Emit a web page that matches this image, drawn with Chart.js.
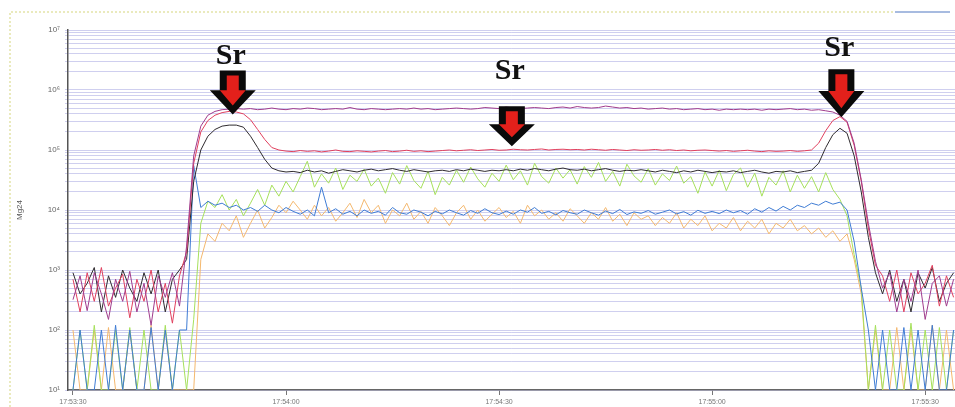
<!DOCTYPE html>
<html lang="en">
  <head>
    <meta charset="UTF-8">
    <title>Mg24 signal</title>
    <script src="https://cdn.jsdelivr.net/npm/chart.js"></script>
    <style>
      html, body { margin: 0; padding: 0; background: #ffffff; }
      #chart { display: block; }
    </style>
  </head>
  <body>
    <canvas id="chart" width="955" height="407"></canvas>

    <script>
      // seconds after 17:53:30
      const seconds = [0,1,2,3,4,5,6,7,8,9,10,11,12,13,14,15,16,17,18,19,20,21,22,23,24,25,26,27,28,29,30,31,32,33,34,35,36,37,38,39,40,41,42,43,44,45,46,47,48,49,50,51,52,53,54,55,56,57,58,59,60,61,62,63,64,65,66,67,68,69,70,71,72,73,74,75,76,77,78,79,80,81,82,83,84,85,86,87,88,89,90,91,92,93,94,95,96,97,98,99,100,101,102,103,104,105,106,107,108,109,110,111,112,113,114,115,116,117,118,119,120,121,122,123,124];

      const timeTicks = [0, 30, 60, 90, 120];
      const decades = [1, 2, 3, 4, 5, 6, 7];

      const purple = [3.2e2,8e2,2.1e2,9e2,4e2,1.5e2,7e2,3e2,9.5e2,2e2,6e2,1.2e2,8e2,3.5e2,9e2,2.5e2,
        2.5e3,8e4,2.5e5,3.8e5,4.4e5,4.7e5,4.8e5,4.9e5,
        4.8e5,4.9e5,4.7e5,4.8e5,5e5,4.8e5,4.7e5,4.9e5,4.8e5,5e5,
        4.9e5,4.7e5,4.8e5,4.9e5,4.8e5,5.1e5,4.8e5,4.7e5,4.9e5,4.8e5,
        4.7e5,4.8e5,4.9e5,4.8e5,5e5,4.8e5,4.9e5,4.7e5,4.8e5,4.9e5,
        5e5,4.9e5,4.8e5,4.9e5,5.1e5,5e5,4.9e5,5.2e5,5e5,4.9e5,
        5e5,5.1e5,5e5,4.9e5,5.1e5,5.2e5,5e5,5.3e5,5.1e5,5e5,
        5.1e5,5.4e5,5.2e5,5e5,5.1e5,4.9e5,5e5,4.8e5,4.9e5,5e5,
        4.8e5,4.9e5,4.7e5,4.8e5,4.9e5,4.7e5,4.8e5,4.6e5,4.8e5,4.7e5,
        4.8e5,4.7e5,4.8e5,4.6e5,4.8e5,4.7e5,4.8e5,4.9e5,4.7e5,4.8e5,4.6e5,4.7e5,4.5e5,4.3e5,
        3.8e5,3e5,1.3e5,3.2e4,6e3,1.4e3,
        5e2,9e2,2e2,7e2,3e2,1e3,1.5e2,6e2,8e2,2.5e2,7e2];

      const red = [7e2,2e2,9e2,3e2,1.1e3,2.5e2,5e2,8.5e2,1.6e2,7e2,3e2,1e3,2e2,6e2,1.3e2,8e2,
        2e3,6e4,2e5,3.1e5,3.8e5,4.2e5,4.4e5,4.3e5,4e5,3.2e5,2.2e5,1.5e5,1.1e5,1e5,9.6e4,
        9.4e4,9.8e4,9.5e4,9.7e4,9.3e4,9.6e4,1e5,9.5e4,9.4e4,9.7e4,
        9.5e4,9.3e4,9.6e4,9.8e4,9.4e4,9.6e4,9.9e4,9.5e4,9.7e4,9.4e4,
        9.6e4,9.8e4,1e5,9.7e4,9.9e4,1.01e5,9.8e4,1e5,1.02e5,9.9e4,
        1e5,1.03e5,1.01e5,1e5,1.02e5,1.04e5,1e5,1.02e5,1.03e5,1.01e5,
        1.02e5,1e5,1.03e5,1.01e5,9.9e4,1.02e5,1e5,9.8e4,1.01e5,9.9e4,
        1e5,1.02e5,9.9e4,1.01e5,9.8e4,1e5,9.7e4,9.9e4,1e5,9.8e4,
        9.6e4,9.8e4,9.5e4,9.7e4,9.9e4,9.6e4,9.4e4,9.7e4,9.5e4,9.6e4,9.8e4,9.5e4,9.7e4,
        1e5,1.3e5,2.1e5,3.1e5,3.6e5,2.9e5,1.2e5,3e4,5e3,1.2e3,
        8e2,3e2,1e3,2e2,9e2,4e2,6e2,1.2e3,2.5e2,8e2,3.5e2];

      const black = [9e2,4e2,6e2,1.1e3,2e2,8e2,3.5e2,1e3,5e2,3e2,9e2,4e2,1e3,2e2,7e2,1e3,
        1.5e3,3e4,1e5,1.7e5,2.2e5,2.5e5,2.6e5,2.6e5,2.4e5,1.7e5,1.1e5,7e4,5e4,4.5e4,4.3e4,
        4.4e4,4.2e4,4.6e4,4.3e4,4.5e4,4.1e4,4.4e4,4.7e4,4.5e4,4.3e4,
        4.6e4,4.8e4,4.5e4,4.7e4,4.9e4,4.6e4,4.4e4,4.7e4,4.5e4,4.3e4,
        4.5e4,4.6e4,4.4e4,4.7e4,4.5e4,4.8e4,4.6e4,4.4e4,4.6e4,4.5e4,
        4.7e4,4.5e4,4.8e4,4.6e4,4.9e4,4.7e4,4.5e4,4.8e4,5e4,4.7e4,
        4.6e4,4.8e4,4.5e4,4.7e4,4.9e4,4.6e4,4.4e4,4.6e4,4.5e4,4.7e4,
        4.5e4,4.3e4,4.6e4,4.4e4,4.2e4,4.5e4,4.3e4,4.6e4,4.4e4,4.2e4,
        4.4e4,4.3e4,4.5e4,4.2e4,4.4e4,4.6e4,4.3e4,4.1e4,4.4e4,4.3e4,4.5e4,4.2e4,4.4e4,
        4.6e4,6e4,1.1e5,1.8e5,2.3e5,1.9e5,8e4,2e4,3.5e3,9e2,
        4e2,1e3,3e2,7e2,2e2,9e2,5e2,1.1e3,3e2,6e2,9e2];

      const green = [0,1e2,0,1.2e2,0,0,1e2,0,1.1e2,0,1e2,0,0,1.2e2,0,1e2,
        0,1.5e2,6e3,1.4e4,1.1e4,1.8e4,1e4,1.5e4,8e3,1.3e4,2.2e4,1.2e4,2.6e4,1.7e4,3e4,
        2e4,3.6e4,6.5e4,2.4e4,4e4,2.8e4,5e4,2.2e4,3.8e4,3e4,
        4.8e4,2.5e4,3.4e4,1.9e4,4.2e4,2.7e4,5.5e4,3.1e4,2.3e4,4.4e4,
        1.8e4,3.5e4,2.6e4,4.6e4,2.9e4,5.2e4,3.3e4,2.4e4,4.1e4,3e4,
        5.6e4,3.2e4,4.5e4,2.6e4,6e4,3.6e4,2.8e4,5e4,3.4e4,4.7e4,
        2.7e4,5.3e4,3.5e4,6.2e4,3e4,4.4e4,2.5e4,5.8e4,3.7e4,2.9e4,
        4.9e4,2.6e4,4e4,3.1e4,5.4e4,2.8e4,3.6e4,1.9e4,4.3e4,2.5e4,
        4.6e4,2.1e4,3.9e4,5e4,2.4e4,4.1e4,1.7e4,3.5e4,2.6e4,4.5e4,2e4,3.8e4,2.3e4,
        3.6e4,2e4,4.2e4,2.2e4,1.5e4,8e3,1.8e3,5e2,0,1.2e2,
        0,1e2,0,0,1.3e2,0,1e2,0,1.1e2,0,1e2];

      const orange = [1e2,0,0,1e2,0,1.1e2,0,0,1e2,0,0,1.2e2,0,1e2,0,0,
        0,0,1.5e3,4e3,3e3,6e3,4.5e3,8e3,3.5e3,6e3,1e4,5e3,7.5e3,1.2e4,9e3,
        1.4e4,1e4,7e3,1.2e4,8e3,1.1e4,6.5e3,9e3,1.3e4,7.5e3,
        1.5e4,9e3,1.2e4,6e3,1e4,8e3,1.3e4,7e3,9.5e3,6e3,
        1.1e4,8e3,5.5e3,9e3,1.2e4,7e3,1e4,6.5e3,8.5e3,1.1e4,
        7.5e3,9.5e3,6e3,1.2e4,8e3,1e4,7e3,9e3,6.5e3,1.05e4,
        8e3,6e3,9e3,7e3,1.1e4,6.5e3,8.5e3,5.5e3,9e3,7e3,
        8e3,5.5e3,7.5e3,6e3,9e3,5e3,7e3,5.5e3,8e3,4.5e3,
        6e3,5e3,7.5e3,4.5e3,6.5e3,5e3,7e3,4e3,6e3,5e3,7e3,4.5e3,5.5e3,
        4e3,5e3,3.5e3,4.5e3,3e3,4e3,1.5e3,4e2,0,1e2,
        0,0,1.1e2,0,1e2,0,0,1.2e2,0,1e2,0];

      const blue = [0,1e2,0,0,1e2,0,1.2e2,0,1e2,0,0,1.1e2,0,1e2,0,1e2,
        1e2,5.5e4,1.1e4,1.4e4,1.2e4,1.3e4,1.1e4,1.2e4,1e4,1.1e4,9.5e3,1.2e4,1e4,9e3,1.1e4,
        9.5e3,8.5e3,1e4,8e3,2.4e4,9e3,1.05e4,8.5e3,9.5e3,8e3,
        1e4,8.8e3,9.5e3,8.2e3,1.1e4,9e3,8.5e3,1e4,9.2e3,8e3,
        9.5e3,8.6e3,1e4,9e3,8.2e3,9.8e3,8.8e3,1.05e4,9e3,8.4e3,
        9.6e3,8.5e3,1e4,9.2e3,1.1e4,8.8e3,9.5e3,8.3e3,9.8e3,9e3,
        8.5e3,1e4,9e3,8.2e3,9.6e3,8.7e3,1.02e4,8.4e3,9.3e3,8.8e3,
        9.8e3,8.5e3,9.2e3,1e4,8.6e3,9.4e3,8.2e3,9.9e3,8.8e3,9.5e3,
        8.7e3,1e4,9e3,9.8e3,8.5e3,1.05e4,9.2e3,1.1e4,9.6e3,1.15e4,1e4,1.2e4,1.1e4,
        1.3e4,1.2e4,1.4e4,1.25e4,1.35e4,1e4,3e3,5e2,1e2,0,
        1e2,0,0,1.1e2,0,1e2,0,1.2e2,0,0,1e2];

      // Sr peak markers: seconds and counts of the arrow tip, arrow height, text gap above tip
      const markers = [
        { t: 22.5, v: 3.9e5, h: 44, gap: 51 },
        { t: 61.8, v: 1.15e5, h: 40, gap: 67 },
        { t: 108.2, v: 3.5e5, h: 48, gap: 61 }
      ];

      const Y_MIN = 10;

      function points(values) {
        return values.map((v, i) => ({ x: seconds[i], y: Math.max(v, Y_MIN) }));
      }

      function timeLabel(t) {
        const s = 17 * 3600 + 53 * 60 + 30 + Math.round(t);
        const h = Math.floor(s / 3600);
        const m = Math.floor((s % 3600) / 60);
        const sec = s % 60;
        return h + ':' + String(m).padStart(2, '0') + ':' + String(sec).padStart(2, '0');
      }

      const sup = { '1': '¹', '2': '²', '3': '³', '4': '⁴', '5': '⁵', '6': '⁶', '7': '⁷' };

      function arrowPath(ctx, cx, top, tip, shaftW, headW, headH) {
        ctx.beginPath();
        ctx.moveTo(cx - shaftW / 2, top);
        ctx.lineTo(cx + shaftW / 2, top);
        ctx.lineTo(cx + shaftW / 2, tip - headH);
        ctx.lineTo(cx + headW / 2, tip - headH);
        ctx.lineTo(cx, tip);
        ctx.lineTo(cx - headW / 2, tip - headH);
        ctx.lineTo(cx - shaftW / 2, tip - headH);
        ctx.closePath();
      }

      function drawArrow(ctx, cx, tip, h) {
        const top = tip - h;
        const headH = h * 0.55;
        arrowPath(ctx, cx, top, tip, 26, 46, headH);
        ctx.fillStyle = '#0a0a0a';
        ctx.fill();
        arrowPath(ctx, cx, top + 5, tip - 9, 12, 26, headH - 9);
        ctx.fillStyle = '#e3201b';
        ctx.fill();
      }

      const framePlugin = {
        id: 'frame',
        beforeDraw(chart) {
          const ctx = chart.ctx;
          ctx.save();
          ctx.strokeStyle = '#e4e4a8';
          ctx.lineWidth = 1.5;
          ctx.setLineDash([2, 2]);
          ctx.beginPath();
          ctx.moveTo(10, 407);
          ctx.lineTo(10, 12);
          ctx.lineTo(895, 12);
          ctx.stroke();
          ctx.setLineDash([]);
          ctx.strokeStyle = '#8aa4d6';
          ctx.beginPath();
          ctx.moveTo(895, 12);
          ctx.lineTo(950, 12);
          ctx.stroke();
          ctx.restore();
        }
      };

      const markerPlugin = {
        id: 'srMarkers',
        afterDatasetsDraw(chart) {
          const ctx = chart.ctx;
          const xs = chart.scales.x, ys = chart.scales.y;
          ctx.save();
          markers.forEach(m => {
            const cx = xs.getPixelForValue(m.t);
            const tip = ys.getPixelForValue(m.v);
            drawArrow(ctx, cx, tip, m.h);
            ctx.fillStyle = '#111';
            ctx.font = 'bold 30px "Liberation Serif", "DejaVu Serif", serif';
            ctx.textAlign = 'center';
            ctx.textBaseline = 'alphabetic';
            ctx.fillText('Sr', cx - 2, tip - m.gap);
          });
          ctx.restore();
        }
      };

      function line(label, color, values) {
        return {
          label: label,
          data: points(values),
          borderColor: color,
          borderWidth: 1,
          pointRadius: 0,
          tension: 0
        };
      }

      new Chart(document.getElementById('chart').getContext('2d'), {
        type: 'line',
        data: {
          datasets: [
            line('Sr plateau', '#a03c8c', purple),
            line('red', '#e0405e', red),
            line('black', '#2e2a2e', black),
            line('blue', '#3f7cd4', blue),
            line('green', '#a6e05c', green),
            line('orange', '#f4b86e', orange)
          ]
        },
        options: {
          responsive: false,
          animation: false,
          layout: { padding: { top: 30, right: 0, left: 10, bottom: 0 } },
          plugins: {
            legend: { display: false },
            tooltip: { enabled: false }
          },
          scales: {
            x: {
              type: 'linear',
              min: -0.7,
              max: 124.2,
              afterBuildTicks(scale) {
                scale.ticks = timeTicks.map(v => ({ value: v }));
              },
              afterFit(scale) { scale.height = 17; },
              border: { color: '#666', width: 1.5 },
              grid: { display: true, drawOnChartArea: false, drawTicks: true, tickLength: 5, color: '#777' },
              ticks: {
                autoSkip: false,
                maxRotation: 0,
                padding: 3,
                color: '#777',
                font: { family: '"Liberation Sans", Arial, sans-serif', size: 7 },
                callback: v => timeLabel(v)
              }
            },
            y: {
              type: 'logarithmic',
              min: 1e1,
              max: 1e7,
              afterBuildTicks(scale) {
                const t = [];
                decades.forEach(e => {
                  if (e === 7) { t.push({ value: 1e7 }); return; }
                  for (let k = 1; k <= 9; k++) t.push({ value: k * Math.pow(10, e) });
                });
                scale.ticks = t;
              },
              afterFit(scale) { scale.width = 58; },
              border: { color: '#555', width: 1.5 },
              grid: {
                color: 'rgba(168,168,226,0.55)',
                lineWidth: 1,
                drawTicks: true,
                tickLength: 3
              },
              title: {
                display: true,
                text: 'Mg24',
                color: '#555',
                font: { family: '"Liberation Sans", Arial, sans-serif', size: 8 },
                padding: { top: 5, bottom: 10 }
              },
              ticks: {
                autoSkip: false,
                padding: 5,
                color: '#666',
                font: { family: '"Liberation Sans", Arial, sans-serif', size: 8 },
                callback: v => {
                  const e = Math.log10(v);
                  if (Math.abs(e - Math.round(e)) > 1e-9) return '';
                  return '10' + sup[String(Math.round(e))];
                }
              }
            }
          }
        },
        plugins: [framePlugin, markerPlugin]
      });
    </script>
  </body>
</html>
